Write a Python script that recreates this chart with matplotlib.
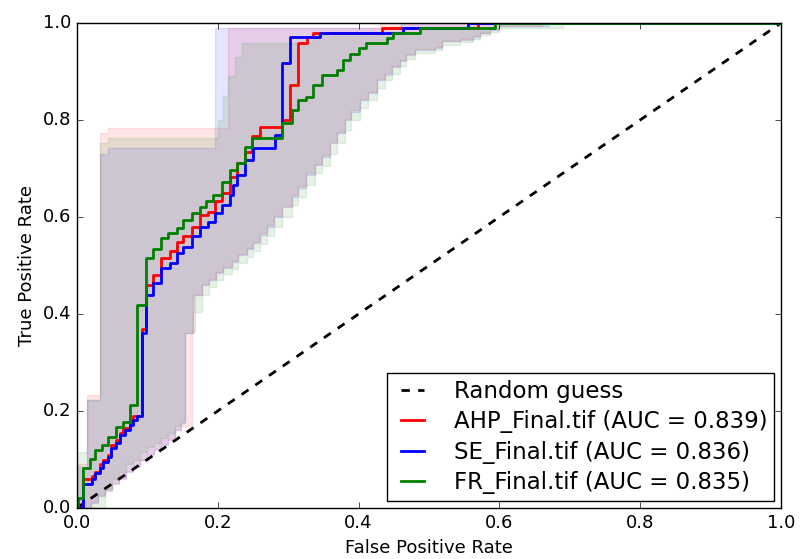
import numpy as np
import matplotlib
matplotlib.use('Agg')
import matplotlib.pyplot as plt

plt.style.use('classic')
plt.rcParams['savefig.facecolor'] = 'white'
plt.rcParams['figure.facecolor'] = 'white'

# curvas ROC medias (fpr, tpr) em degraus
ahp_fpr = [0, 0.009, 0.021, 0.026, 0.033, 0.037, 0.044, 0.049, 0.056, 0.061, 0.066, 0.075, 0.08, 0.092, 0.098,
           0.108, 0.12, 0.132, 0.142, 0.151, 0.163, 0.175, 0.186, 0.196, 0.206, 0.217, 0.227, 0.239, 0.248, 0.26,
           0.291, 0.3025, 0.314, 0.327, 0.335, 0.433, 0.57, 1.0]
ahp_tpr = [0, 0.06, 0.065, 0.075, 0.09, 0.10, 0.11, 0.13, 0.14, 0.155, 0.165, 0.18, 0.19, 0.37, 0.46,
           0.48, 0.515, 0.529, 0.549, 0.56, 0.58, 0.604, 0.611, 0.632, 0.649, 0.683, 0.711, 0.735, 0.766, 0.786,
           0.80, 0.872, 0.959, 0.971, 0.98, 0.99, 1.0, 1.0]

se_fpr = [0, 0.009, 0.021, 0.026, 0.033, 0.037, 0.044, 0.049, 0.056, 0.061, 0.068, 0.075, 0.08, 0.085, 0.092,
          0.098, 0.108, 0.12, 0.132, 0.142, 0.151, 0.163, 0.175, 0.186, 0.196, 0.206, 0.217, 0.222, 0.227, 0.239,
          0.25, 0.281, 0.291, 0.3025, 0.345, 0.463, 0.555, 1.0]
se_tpr = [0, 0.05, 0.06, 0.072, 0.082, 0.095, 0.106, 0.123, 0.134, 0.151, 0.161, 0.171, 0.181, 0.19, 0.36,
          0.44, 0.463, 0.494, 0.505, 0.525, 0.539, 0.56, 0.58, 0.59, 0.608, 0.625, 0.645, 0.666, 0.687, 0.718,
          0.742, 0.769, 0.917, 0.971, 0.98, 0.99, 1.0, 1.0]

fr_fpr = [0, 0.002, 0.009, 0.018, 0.026, 0.035, 0.044, 0.056, 0.066, 0.075, 0.085, 0.098, 0.108, 0.12, 0.13,
          0.142, 0.151, 0.163, 0.175, 0.184, 0.194, 0.206, 0.217, 0.227, 0.239, 0.248, 0.291, 0.305, 0.314, 0.326,
          0.336, 0.348, 0.369, 0.378, 0.388, 0.40, 0.411, 0.44, 0.449, 0.487, 0.594, 1.0]
fr_tpr = [0, 0.02, 0.082, 0.102, 0.12, 0.13, 0.147, 0.168, 0.178, 0.212, 0.418, 0.515, 0.535, 0.556, 0.566,
          0.577, 0.594, 0.608, 0.621, 0.632, 0.645, 0.673, 0.697, 0.711, 0.745, 0.762, 0.793, 0.82, 0.841, 0.848,
          0.872, 0.893, 0.903, 0.924, 0.937, 0.948, 0.958, 0.968, 0.979, 0.99, 1.0, 1.0]

# faixas de desvio (limite superior)
ahp_up_x = [0, 0.014, 0.033, 0.044, 0.214, 0.43, 1.0]
ahp_up_y = [0.09, 0.233, 0.773, 0.783, 0.99, 1.0, 1.0]
se_up_x = [0, 0.014, 0.033, 0.044, 0.196, 0.46, 1.0]
se_up_y = [0.085, 0.222, 0.73, 0.742, 0.99, 1.0, 1.0]
fr_up_x = [0, 0.014, 0.033, 0.044, 0.200, 0.207, 0.215, 0.225, 0.235, 0.335, 0.49, 0.6, 1.0]
fr_up_y = [0.115, 0.222, 0.752, 0.763, 0.80, 0.85, 0.89, 0.93, 0.958, 0.98, 0.99, 1.0, 1.0]

# faixas de desvio (limite inferior)
se_lo_x = [0, 0.02, 0.03, 0.04, 0.05, 0.06, 0.07, 0.08, 0.09, 0.10, 0.11, 0.12, 0.13, 0.14, 0.148, 0.153, 0.165,
           0.177, 0.187, 0.198, 0.208, 0.22, 0.229, 0.241, 0.25, 0.26, 0.27, 0.28, 0.292, 0.305, 0.314, 0.326,
           0.338, 0.348, 0.359, 0.369, 0.381, 0.39, 0.402, 0.414, 0.426, 0.4375, 0.447, 0.459, 0.468, 0.48, 0.509,
           0.518, 0.544, 0.563, 0.572, 0.587, 0.60, 0.67, 1.0]
se_lo_y = [0, 0.01, 0.025, 0.035, 0.05, 0.06, 0.075, 0.085, 0.10, 0.11, 0.12, 0.13, 0.14, 0.16, 0.175, 0.36, 0.44,
           0.46, 0.47, 0.484, 0.494, 0.508, 0.522, 0.535, 0.546, 0.563, 0.58, 0.60, 0.62, 0.642, 0.66, 0.687,
           0.707, 0.724, 0.752, 0.773, 0.80, 0.817, 0.841, 0.855, 0.882, 0.893, 0.91, 0.921, 0.934, 0.944, 0.948,
           0.962, 0.965, 0.972, 0.979, 0.986, 0.993, 1.0, 1.0]
ahp_lo_x = [0, 0.02, 0.03, 0.04, 0.05, 0.06, 0.07, 0.08, 0.09, 0.10, 0.11, 0.12, 0.13, 0.14, 0.148, 0.164, 0.168,
            0.177, 0.187, 0.198, 0.208, 0.22, 0.229, 0.241, 0.25, 0.26, 0.27, 0.28, 0.292, 0.305, 0.314, 0.326,
            0.338, 0.348, 0.359, 0.369, 0.381, 0.39, 0.402, 0.414, 0.426, 0.4375, 0.447, 0.459, 0.468, 0.48, 0.509,
            0.518, 0.544, 0.563, 0.572, 0.587, 0.60, 0.66, 1.0]
ahp_lo_y = [0, 0.012, 0.027, 0.037, 0.052, 0.062, 0.077, 0.087, 0.10, 0.112, 0.122, 0.132, 0.142, 0.16, 0.17, 0.363,
            0.44, 0.462, 0.472, 0.486, 0.496, 0.51, 0.524, 0.537, 0.548, 0.566, 0.583, 0.603, 0.623, 0.645, 0.663,
            0.69, 0.71, 0.727, 0.755, 0.776, 0.803, 0.82, 0.844, 0.858, 0.885, 0.896, 0.912, 0.923, 0.936, 0.946,
            0.95, 0.963, 0.966, 0.973, 0.98, 0.987, 0.993, 1.0, 1.0]
fr_lo_x = [0, 0.04, 0.05, 0.06, 0.07, 0.08, 0.09, 0.10, 0.11, 0.12, 0.13, 0.14, 0.148, 0.153, 0.165, 0.177,
           0.187, 0.198, 0.208, 0.22, 0.229, 0.241, 0.25, 0.26, 0.27, 0.28, 0.292, 0.305, 0.314, 0.326, 0.338,
           0.348, 0.359, 0.369, 0.381, 0.39, 0.402, 0.414, 0.426, 0.4375, 0.447, 0.459, 0.468, 0.48, 0.509, 0.518,
           0.544, 0.563, 0.572, 0.587, 0.60, 0.69, 1.0]
fr_lo_y = [0, 0.04, 0.06, 0.075, 0.09, 0.10, 0.115, 0.125, 0.135, 0.145, 0.155, 0.17, 0.178, 0.36, 0.405, 0.44,
           0.455, 0.47, 0.482, 0.492, 0.505, 0.518, 0.53, 0.545, 0.56, 0.58, 0.60, 0.625, 0.642, 0.665, 0.69,
           0.705, 0.73, 0.752, 0.78, 0.80, 0.825, 0.842, 0.865, 0.882, 0.895, 0.912, 0.925, 0.938, 0.944, 0.955,
           0.96, 0.967, 0.975, 0.982, 0.99, 1.0, 1.0]

labels = ['AHP_Final.tif (AUC = 0.839)', 'SE_Final.tif (AUC = 0.836)', 'FR_Final.tif (AUC = 0.835)']
cores = ['r', 'b', 'g']


def degraus(xs, ys):
    # transforma pontos em caminho de degraus (steps-post)
    px, py = [xs[0]], [ys[0]]
    for i in range(1, len(xs)):
        px += [xs[i], xs[i]]
        py += [ys[i - 1], ys[i]]
    return px, py


fig = plt.figure(figsize=(8.01, 5.59), dpi=100)
ax = fig.add_axes([0.096, 0.0912, 0.879, 0.8677])

ax.plot([0, 1], [0, 1], 'k--', lw=2, label='Random guess')

curvas = [(ahp_fpr, ahp_tpr), (se_fpr, se_tpr), (fr_fpr, fr_tpr)]
faixas = [(ahp_up_x, ahp_up_y, ahp_lo_x, ahp_lo_y),
          (se_up_x, se_up_y, se_lo_x, se_lo_y),
          (fr_up_x, fr_up_y, fr_lo_x, fr_lo_y)]

for (fx, fy), (ux, uy, lx, ly), c, lab in zip(curvas, faixas, cores, labels):
    upx, upy = degraus(ux, uy)
    lox, loy = degraus(lx, ly)
    ax.fill(upx + lox[::-1], upy + loy[::-1], color=c, alpha=0.1, lw=1)
    ax.plot(fx, fy, color=c, lw=2, drawstyle='steps-post', label=lab)

ax.set_xlim(0, 1)
ax.set_ylim(0, 1)
ax.set_xticks(np.arange(0, 1.01, 0.2))
ax.set_yticks(np.arange(0, 1.01, 0.2))
ax.tick_params(labelsize=13)
ax.set_xlabel('False Positive Rate', fontsize=13)
ax.set_ylabel('True Positive Rate', fontsize=13)
ax.legend(loc='lower right', fontsize=16.5, labelspacing=0.33, handlelength=1.6,
          handletextpad=1.0, borderpad=0.3, borderaxespad=0.3)

fig.savefig('out.png', dpi=100)
